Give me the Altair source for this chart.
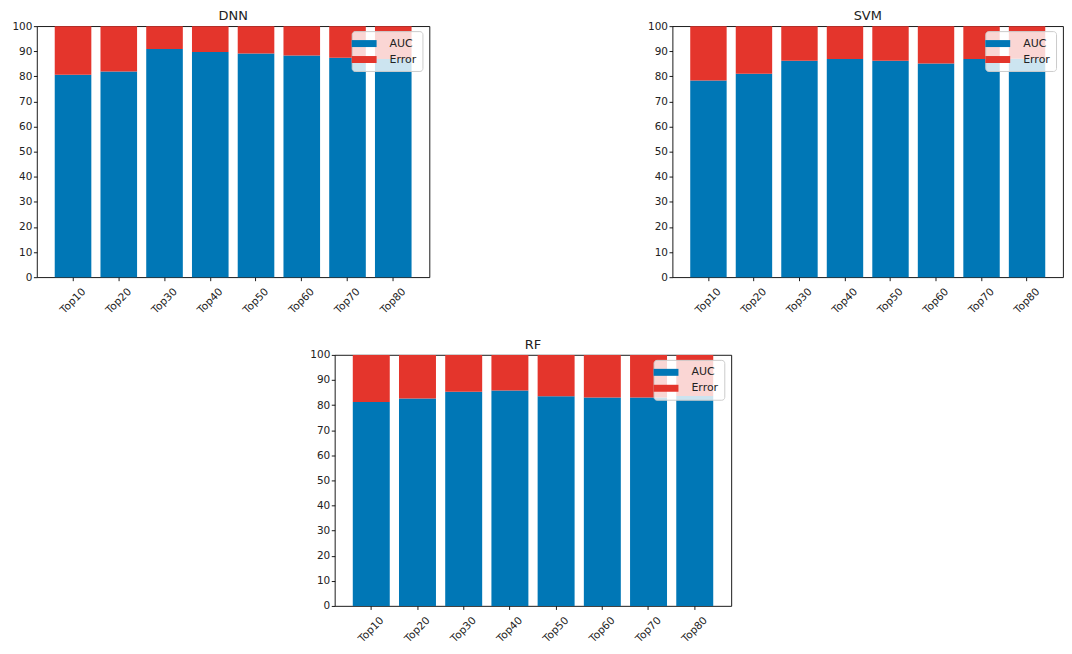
import altair as alt
import pandas as pd

categories = ["Top10", "Top20", "Top30", "Top40", "Top50", "Top60", "Top70", "Top80"]
dnn_auc = [80.6, 81.9, 90.9, 89.7, 89.1, 88.3, 87.4, 86.9]
svm_auc = [78.3, 81.0, 86.2, 86.9, 86.2, 85.1, 86.9, 87.0]
rf_auc = [81.2, 82.6, 85.3, 85.8, 83.5, 83.0, 83.0, 83.6]
series = ["AUC", "Error"]
colors = ["#0077b6", "#e4352c"]
y_ticks = [0, 10, 20, 30, 40, 50, 60, 70, 80, 90, 100]

FONT = "DejaVu Sans"
TXT = "#222222"
H = 252


def make_df(auc):
    rows = []
    for c, a in zip(categories, auc):
        rows.append({"cat": c, "type": "AUC", "val": a, "ord": 0})
        rows.append({"cat": c, "type": "Error", "val": round(100 - a, 2), "ord": 1})
    return pd.DataFrame(rows)


def panel(title, auc, w, h=H):
    bars = (
        alt.Chart(make_df(auc))
        .mark_bar()
        .encode(
            x=alt.X(
                "cat:N",
                sort=categories,
                title=None,
                scale=alt.Scale(paddingInner=0.2, paddingOuter=0.39),
                axis=alt.Axis(
                    labelAngle=-45,
                    labelAlign="center",
                    labelBaseline="middle",
                    labelPadding=20,
                    tickSize=3.5,
                    domain=False,
                ),
            ),
            y=alt.Y(
                "val:Q",
                stack="zero",
                title=None,
                scale=alt.Scale(domain=[0, 100], nice=False),
                axis=alt.Axis(
                    values=y_ticks, tickSize=3.5, labelPadding=1.5, domain=False, grid=False,
                    minExtent=28, maxExtent=28,
                ),
            ),
            color=alt.Color(
                "type:N",
                scale=alt.Scale(domain=series, range=colors),
                legend=alt.Legend(
                    title=None,
                    orient="none",
                    legendX=w - 78,
                    legendY=5,
                    fillColor="rgba(255,255,255,0.8)",
                    strokeColor="#cccccc",
                    cornerRadius=3,
                    padding=6,
                    rowPadding=4,
                    labelFontSize=11,
                    labelFont=FONT,
                    labelColor=TXT,
                    labelOffset=19,
                    symbolType="M-2,-0.56L2,-0.56L2,0.56L-2,0.56Z",
                    symbolSize=156,
                    symbolStrokeWidth=0,
                    symbolOpacity=1,
                ),
            ),
            order=alt.Order("ord:Q", sort="ascending"),
        )
    )
    ttl = (
        alt.Chart(pd.DataFrame({"t": [title]}))
        .mark_text(font=FONT, fontSize=13, color=TXT, align="center", baseline="alphabetic")
        .encode(text="t:N", x=alt.value(w / 2), y=alt.value(-6))
    )
    return alt.layer(bars, ttl).properties(width=w, height=h)


dnn = panel("DNN", dnn_auc, 394)
svm = panel("SVM", svm_auc, 392)
rf = panel("RF", rf_auc, 398)

spacer = (
    alt.Chart(pd.DataFrame({"x": [0]}))
    .mark_point(opacity=0)
    .encode(x=alt.value(0), y=alt.value(0))
    .properties(width=260, height=10, view=alt.ViewBackground(stroke="transparent"))
)

top = alt.hconcat(dnn, svm, spacing=214).resolve_legend(color="independent").resolve_scale(color="independent")
bottom = alt.hconcat(spacer, rf, spacing=9).resolve_legend(color="independent").resolve_scale(color="independent")

chart = (
    alt.vconcat(top, bottom, spacing=22)
    .resolve_legend(color="independent")
    .resolve_scale(color="independent")
    .properties(padding=0)
    .configure_view(stroke="#000000", strokeWidth=0.9)
    .configure_axis(
        labelFont=FONT,
        labelFontSize=10.5,
        labelColor=TXT,
        tickColor="#000000",
        tickWidth=0.9,
    )
)

chart.save("out.html", embed_options={"renderer": "svg", "actions": False})
